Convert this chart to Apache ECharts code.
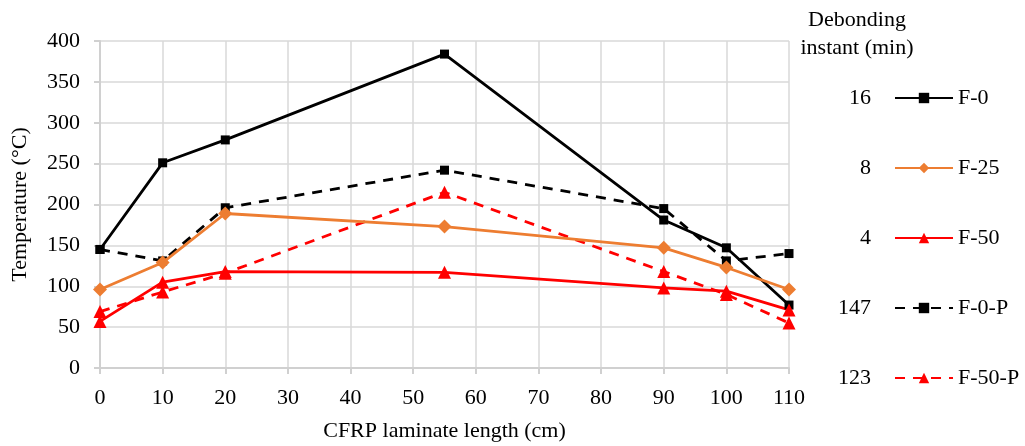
<!DOCTYPE html>
<html><head><meta charset="utf-8">
<script src="https://cdn.jsdelivr.net/npm/echarts@6/dist/echarts.min.js"></script>
<style>html,body{margin:0;padding:0;background:#fff}#c{width:1025px;height:446px}</style>
</head><body><div id="c"></div>
<script>
const lengths = [0, 10, 20, 55, 90, 100, 110];
const seriesNames = ['F-0', 'F-25', 'F-50', 'F-0-P', 'F-50-P'];
const debondingMin = ['16', '8', '4', '147', '123'];
const F0 = [145, 251, 279, 384, 181, 147, 77];
const F25 = [96, 129, 189, 173, 147, 123, 96];
const F50 = [57, 105, 118, 117, 98, 94, 71];
const F0P = [145, 131, 196, 242, 195, 131, 140];
const F50P = [69, 93, 116, 215, 118, 90, 55];
const xTicks = [0, 110, 10];
const yTicks = [0, 400, 50];

const font = 'Liberation Serif';
const fs = 22;
function pairs(v){ return lengths.map((x,i)=>[x, v[i]]); }
function mk(name, data, color, symbol, size, dashed){
  return {name, type:'line', data:pairs(data), symbol, symbolSize:size,
    lineStyle:{color, width:2.8, type: dashed ? [10,8] : 'solid'},
    itemStyle:{color}, z: dashed?2:3, animation:false};
}
const chart = echarts.init(document.getElementById('c'));
const legendCenter = 98, legendGap = 70;
chart.setOption({
  animation:false,
  grid:{left:100, right:236, top:41, bottom:78, outerBoundsMode:'none', containLabel:false},
  xAxis:{type:'value', min:xTicks[0], max:xTicks[1], interval:xTicks[2],
    name:'CFRP laminate length (cm)', nameLocation:'middle', nameGap:52,
    nameTextStyle:{fontFamily:font, fontSize:fs, color:'#000'},
    axisLine:{lineStyle:{color:'#d0d0d0', width:2}},
    axisTick:{show:true, length:6, lineStyle:{color:'#d0d0d0', width:2}},
    axisLabel:{fontFamily:font, fontSize:fs, color:'#000', margin:19},
    splitLine:{show:true, lineStyle:{color:'#d9d9d9', width:1.5}}},
  yAxis:{type:'value', min:yTicks[0], max:yTicks[1], interval:yTicks[2],
    name:'Temperature (°C)', nameLocation:'middle', nameGap:69, nameRotate:90,
    nameTextStyle:{fontFamily:font, fontSize:fs, color:'#000'},
    axisLine:{show:true, lineStyle:{color:'#d0d0d0', width:2}},
    axisTick:{show:true, length:6, lineStyle:{color:'#d0d0d0', width:2}},
    axisLabel:{fontFamily:font, fontSize:fs, color:'#000', margin:20},
    splitLine:{show:true, lineStyle:{color:'#d9d9d9', width:1.5}}},
  legend:{orient:'vertical', left:889, top:legendCenter-12-5, itemGap:legendGap-24, itemWidth:58, itemHeight:13,
    data:seriesNames,
    textStyle:{fontFamily:font, fontSize:fs, color:'#000', lineHeight:24}},
  graphic:[
    {type:'text', x:857, y:34, style:{text:'Debonding\ninstant (min)', fontFamily:font, fontSize:fs, fill:'#000', align:'center', verticalAlign:'middle', lineHeight:28}},
    ...debondingMin.map((t,i)=>({type:'text', x:871, y:legendCenter+i*legendGap, style:{text:t, fontFamily:font, fontSize:fs, fill:'#000', align:'right', verticalAlign:'middle'}}))
  ],
  series:[
    mk('F-0', F0, '#000000', 'rect', 9, false),
    mk('F-25', F25, '#ED7D31', 'diamond', 14, false),
    mk('F-50', F50, '#FF0000', 'triangle', 13, false),
    mk('F-0-P', F0P, '#000000', 'rect', 9, true),
    mk('F-50-P', F50P, '#FF0000', 'triangle', 13, true)
  ]
});
</script></body></html>
